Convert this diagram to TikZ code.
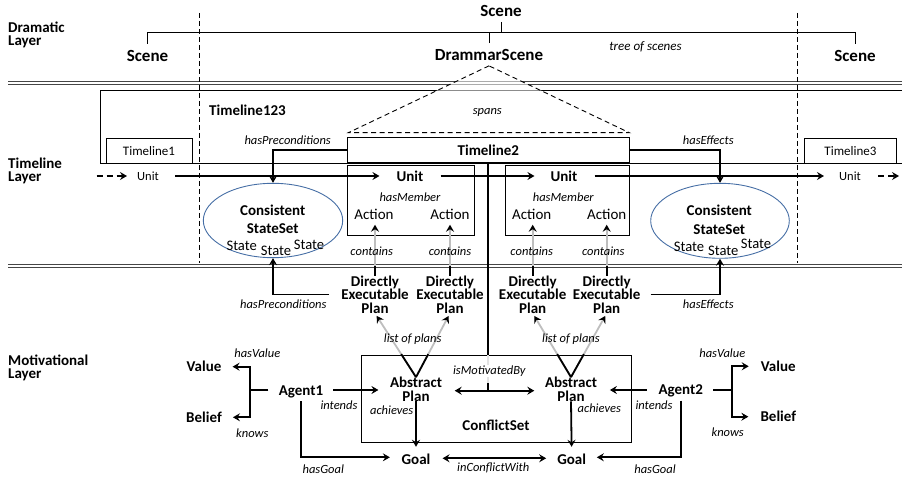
\documentclass[tikz,border=0pt]{standalone}
\usepackage{fontspec}
\setmainfont{Carlito}
\usetikzlibrary{arrows.meta,shapes.geometric,calc}
\definecolor{ellblue}{RGB}{70,110,165}
\definecolor{dline}{RGB}{70,70,70}
\definecolor{lgray}{RGB}{190,190,190}
\tikzset{
  lay/.style={font=\fontsize{15}{13.5}\selectfont\bfseries, inner sep=0pt, align=left, anchor=west},
  bl/.style={font=\fontsize{15}{13.3}\selectfont\bfseries, inner sep=0pt, align=center},
  big/.style={font=\fontsize{17}{17}\selectfont\bfseries, inner sep=0pt},
  lab/.style={font=\fontsize{12.5}{12.5}\selectfont\itshape, inner sep=0pt},
  rg/.style={font=\fontsize{15}{15}\selectfont, inner sep=0pt},
  sm/.style={font=\fontsize{12.5}{12.5}\selectfont, inner sep=0pt},
  tlf/.style={font=\fontsize{13}{13}\selectfont, inner sep=0pt},
  thk/.style={line width=1.8pt},
  arr/.style={thk,->},
  darr/.style={thk,<->},
  fr/.style={draw, line width=0.9pt},
  vdash/.style={line width=0.9pt, dash pattern=on 5pt off 3pt},
  dbl/.style={line width=1.1pt, draw=dline},
  gr/.style={line width=1.8pt, draw=lgray, -{Stealth[length=7pt,width=8pt,inset=2.5pt,color=black]}},
}
\begin{document}
\begin{tikzpicture}[x=1pt,y=-1pt, >={Stealth[length=7pt,width=8pt,inset=2.5pt]}]
\useasboundingbox (0,0) rectangle (902,478);

% ---------- layer labels
\node[lay] (lD) at (8,35) {Dramatic\\Layer};
\node[lay] (lT) at (8,171) {Timeline\\Layer};
\node[lay] (lM) at (8,368) {Motivational\\Layer};

% ---------- separators
\draw[dbl] (8,81.7) -- (902,81.7);
\draw[dbl] (8,84.6) -- (902,84.6);
\draw[dbl] (8,264.2) -- (902,264.2);
\draw[dbl] (8,267.1) -- (902,267.1);

% ---------- dashed verticals
\draw[vdash] (199,13) -- (199,263);
\draw[vdash] (797.7,13) -- (797.7,263);

% ---------- scene tree
\node[big] (scTop) at (501,11) {Scene};
\node[big] (scL) at (147.5,55.5) {Scene};
\node[big] (ds) at (489,55) {DrammarScene};
\node[big] (scR) at (855,55.5) {Scene};
\node[lab, font=\fontsize{13}{13}\selectfont\itshape] (tree) at (645.5,46.7) {tree of scenes};
\coordinate (tj) at (501,32.3);
\draw[fr] ([yshift=-5pt]scTop.south) -- (tj);
\draw[fr] ([yshift=6pt]scL.north) -- (scL.north |- tj) -- (scR.north |- tj) -- ([yshift=6pt]scR.north);
\draw[fr] ([yshift=6pt]ds.north) -- (ds.north |- tj);

% ---------- timeline layer frame
\draw[fr] (902,90.5) -- (100,90.5) -- (100,163.3) -- (902,163.3);
\node[bl, anchor=west] (tl123) at (209,110) {Timeline123};
\node[tlf, fr, minimum width=86pt, minimum height=25pt] (tl1) at (149,150.8) {Timeline1};
\node[tlf, fr, minimum width=92.4pt, minimum height=25pt] (tl3) at (850.5,150.8) {Timeline3};
\node[bl, fr, minimum width=281.3pt, minimum height=25.7pt] (tl2) at (488.35,149.85) {Timeline2};

% unit boxes
\node[fr, minimum width=126.3pt, minimum height=69.3pt] (ub1) at (410.85,200.35) {};
\node[fr, minimum width=123.3pt, minimum height=69.3pt] (ub2) at (567.35,200.35) {};

% units
\node[sm] (u0) at (148,176) {Unit};
\node[bl] (u1) at (410,176) {Unit};
\node[bl] (u2) at (564,176) {Unit};
\node[sm] (u3) at (850,176) {Unit};
\coordinate (uin) at (96.7,176);
\coordinate (uout) at (899,176);
\draw[thk,->,dash pattern=on 6pt off 4pt, shorten >=10pt] (uin) -- (u0.west);
\draw[arr, shorten <=16pt, shorten >=17pt] (u0.east) -- (u1.west);
\draw[arr, shorten <=17pt, shorten >=16pt] (u1.east) -- (u2.west);
\draw[arr, shorten <=17pt, shorten >=15pt] (u2.east) -- (u3.west);
\draw[thk,->,dash pattern=on 6pt off 4pt, shorten <=17pt] (u3.east) -- (uout);

\node[lab] (hm1) at (410,197.3) {hasMember};
\node[lab] (hm2) at (563.3,197.3) {hasMember};
\node[rg] (a1) at (374,214.3) {Action};
\node[rg] (a2) at (450,214.3) {Action};
\node[rg] (a3) at (531.7,214.3) {Action};
\node[rg] (a4) at (606.7,214.3) {Action};

% ellipses
\node[draw=ellblue, line width=0.9pt, ellipse, minimum width=139.4pt, minimum height=74.4pt, inner sep=0pt] (e1) at (273,220.5) {};
\node[draw=ellblue, line width=0.9pt, ellipse, minimum width=138.6pt, minimum height=75pt, inner sep=0pt] (e2) at (720,220.8) {};
\node[bl, font=\fontsize{15}{18.3}\selectfont\bfseries] (cs1) at (272.7,219.2) {Consistent\\StateSet};
\node[bl, font=\fontsize{15}{18.3}\selectfont\bfseries] (cs2) at (719.3,219.7) {Consistent\\StateSet};
\node[rg, font=\fontsize{14.6}{14.6}\selectfont] (s11) at (241.7,246) {State};
\node[rg, font=\fontsize{14.6}{14.6}\selectfont] (s12) at (276,250.7) {State};
\node[rg, font=\fontsize{14.6}{14.6}\selectfont] (s13) at (309,245) {State};
\node[rg, font=\fontsize{14.6}{14.6}\selectfont] (s21) at (689,247.3) {State};
\node[rg, font=\fontsize{14.6}{14.6}\selectfont] (s22) at (723.3,251) {State};
\node[rg, font=\fontsize{14.6}{14.6}\selectfont] (s23) at (756,244.3) {State};

% hasPreconditions / hasEffects (top)
\draw[arr] (tl2.west) -| (e1.north);
\draw[arr] (tl2.east) -| (e2.north);
\node[lab] (hp1) at (287.7,140) {hasPreconditions};
\node[lab] (he1) at (708.3,140) {hasEffects};

% spans triangle
\coordinate (sp1) at (348.3,132.7);
\coordinate (sp2) at (629.3,132.7);
\filldraw[fill=white, fill opacity=0.55, draw=black, line width=0.9pt, dash pattern=on 5pt off 3.5pt] ([yshift=-5pt]ds.south) -- (sp1) -- (sp2) -- cycle;
\node[lab] (spans) at (487.3,112.3) {spans};

% ---------- motivational layer
\node[bl] (d1) at (375,294.5) {Directly\\Executable\\Plan};
\node[bl] (d2) at (450,294.5) {Directly\\Executable\\Plan};
\node[bl] (d3) at (532.7,294.5) {Directly\\Executable\\Plan};
\node[bl] (d4) at (606.7,294.5) {Directly\\Executable\\Plan};

\coordinate (ysep) at (0,266.5);
\foreach \d/\a in {d1/a1,d2/a2,d3/a3,d4/a4}{
  \draw[gr, shorten >=5pt] (\d.north) -- (\d.north |- \a.south);
  \draw[thk] (\d.north) -- (\d.north |- ysep);
}
\node[lab] (c1) at (371.7,251.7) {contains};
\node[lab] (c2) at (450,251.7) {contains};
\node[lab] (c3) at (531.7,251.7) {contains};
\node[lab] (c4) at (603.3,251.7) {contains};

% bottom hasPreconditions / hasEffects
\draw[arr, shorten <=12pt] (d1.west) -| (e1.south);
\draw[arr, shorten <=10pt] (d4.east) -| (e2.south);
\node[lab] (hp2) at (283.3,304.3) {hasPreconditions};
\node[lab] (he2) at (708.3,304.3) {hasEffects};

% conflict set
\node[fr, minimum width=270.7pt, minimum height=86.6pt] (cs) at (496.35,399) {};
\node[bl] (csl) at (496,425) {ConflictSet};

\node[bl] (ap1) at (416,389.3) {Abstract\\Plan};
\node[bl] (ap2) at (571,389.3) {Abstract\\Plan};

% list of plans
\draw[gr, shorten >=3pt] (ap1.north) -- (d1.south);
\draw[gr, shorten >=3pt] (ap1.north) -- (d2.south);
\draw[gr, shorten >=3pt] (ap2.north) -- (d3.south);
\draw[gr, shorten >=3pt] (ap2.north) -- (d4.south);
\draw[thk] (ap1.north) -- ($(ap1.north)!0.36!(d1.south)$);
\draw[thk] (ap1.north) -- ($(ap1.north)!0.36!(d2.south)$);
\draw[thk] (ap2.north) -- ($(ap2.north)!0.36!(d3.south)$);
\draw[thk] (ap2.north) -- ($(ap2.north)!0.36!(d4.south)$);
\node[lab] (lp1) at (412.7,339) {list of plans};
\node[lab] (lp2) at (571,339) {list of plans};

% isMotivatedBy
\coordinate (mot) at (488.35,390.7);
\coordinate (y383) at (0,383);
\draw[thk] (tl2.south) -- (tl2.south |- cs.north);
\draw[line width=1.8pt, lgray!45] (tl2.south |- cs.north) -- (tl2.south |- y383);
\draw[thk] (tl2.south |- y383) -- (mot);
\draw[darr, shorten <=12.5pt, shorten >=10.5pt] (ap1.east |- mot) -- (ap2.west |- mot);
\node[lab, fill=white, inner sep=1pt] (imb) at (489.3,371) {isMotivatedBy};

% goals
\node[bl] (g1) at (416,459.3) {Goal};
\node[bl] (g2) at (571.7,459.3) {Goal};
\draw[arr, shorten >=7pt] (ap1.south) -- (g1.north);
\draw[arr, shorten >=7pt] (ap2.south) -- (g2.north);
\node[lab] (ach1) at (391.7,410) {achieves};
\node[lab] (ach2) at (599.3,408.3) {achieves};
\draw[darr, shorten <=12pt, shorten >=11pt] ([yshift=1pt]g1.east) -- ([yshift=1pt]g2.west);
\node[lab] (icw) at (493.3,468.3) {inConflictWith};

% agents
\node[bl] (ag1) at (301,391.7) {Agent1};
\node[bl] (ag2) at (680.7,391.3) {Agent2};
\node[bl] (val1) at (204,366.7) {Value};
\node[bl] (bel1) at (204,417.3) {Belief};
\node[bl] (val2) at (778.3,366.3) {Value};
\node[bl] (bel2) at (778.3,416.7) {Belief};

\coordinate (br1) at (250,390);
\coordinate (br2) at (731.7,390);
\draw[thk, shorten <=10.4pt] (ag1.west |- br1) -- (br1);
\draw[arr, shorten >=11pt] (br1) |- (val1.east);
\draw[arr, shorten >=11pt] (br1) |- (bel1.east);
\draw[thk, shorten <=10.3pt] (ag2.east |- br2) -- (br2);
\draw[arr, shorten >=12pt] (br2) |- (val2.west);
\draw[arr, shorten >=12pt] (br2) |- (bel2.west);

\draw[arr, shorten <=10pt, shorten >=11.4pt] (ag1.east |- br1) -- (ap1.west |- br1);
\draw[arr, shorten <=11.7pt, shorten >=12.7pt] (ag2.west |- br2) -- (ap2.east |- br2);

\draw[arr, shorten <=3pt, shorten >=11.6pt] (ag1.south) |- ([yshift=2pt]g1.west);
\draw[arr, shorten <=3pt, shorten >=10.6pt] (ag2.south) |- ([yshift=2pt]g2.east);

\node[lab] (hv1) at (257.3,353.3) {hasValue};
\node[lab] (kn1) at (252.3,433.3) {knows};
\node[lab] (hv2) at (722.3,353.3) {hasValue};
\node[lab] (kn2) at (727.7,432.7) {knows};
\node[lab] (int1) at (339,405) {intends};
\node[lab] (int2) at (654,405) {intends};
\node[lab] (hg1) at (323.3,469.3) {hasGoal};
\node[lab] (hg2) at (655,469.3) {hasGoal};
\end{tikzpicture}
\end{document}
